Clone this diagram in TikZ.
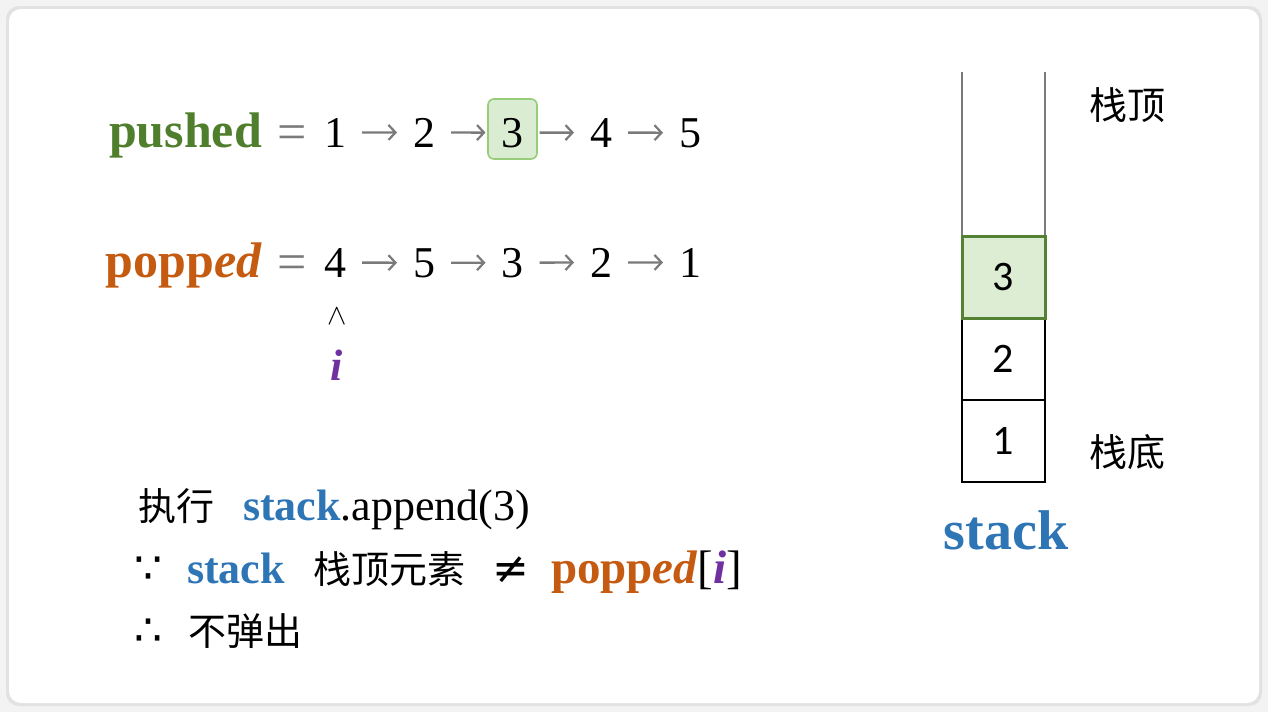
\RequirePackage{fix-cm}
\documentclass[tikz,border=0pt]{standalone}
\usepackage{fontspec}
\setmainfont{Liberation Serif}
\newfontfamily\cjk{Noto Sans CJK SC}
\newfontfamily\sansdig{Carlito}
\newfontfamily\symf{DejaVu Sans}
\usetikzlibrary{arrows.meta}
\definecolor{pgreen}{HTML}{4F7F2C}
\definecolor{porange}{HTML}{C55A11}
\definecolor{sblue}{HTML}{2E75B6}
\definecolor{ipurple}{HTML}{7030A0}
\definecolor{boxfill}{HTML}{DAEDD3}
\definecolor{boxline}{HTML}{97CC7A}
\definecolor{sfill}{HTML}{DDEDD3}
\definecolor{sline}{HTML}{548235}
\definecolor{arrgray}{HTML}{7A7A7A}
\definecolor{bgout}{HTML}{F3F3F3}
\definecolor{shad}{HTML}{E2E2E2}
\begin{document}
\begin{tikzpicture}[x=1pt,y=-1pt,
  every node/.style={inner sep=0pt, outer sep=0pt},
  eqf/.style={font=\fontsize{44}{50}\selectfont},
  digit/.style={eqf, anchor=base},
  arr/.style={draw=arrgray, line width=2.4pt, -{Straight Barb[length=7pt,width=15pt,line width=2.2pt]}, shorten <=27pt, shorten >=27pt},
  cn/.style={font=\fontsize{38}{44}\selectfont\cjk},
  bt/.style={font=\fontsize{44}{50}\selectfont},
  lbl/.style={font=\fontsize{50}{56}\selectfont},
  symb/.style={font=\fontsize{44}{50}\selectfont\symf},
  pbox/.style={draw=boxline, fill=boxfill, line width=1.6pt, rounded corners=6pt, minimum width=49pt, minimum height=60pt},
  sbox/.style={draw=black, line width=2pt, minimum width=83pt, minimum height=82pt, font=\fontsize{42}{48}\selectfont\sansdig},
  sboxtop/.style={sbox, draw=sline, line width=3pt, fill=sfill},
  wall/.style={draw=arrgray, line width=2pt}
]
\useasboundingbox (0,0) rectangle (1268,712);
\fill[bgout] (0,0) rectangle (1268,712);
\fill[shad, rounded corners=13pt] (6,6) rectangle (1262,706);
\fill[white, rounded corners=12pt] (9,9) rectangle (1259,703);

% pushed line
\node[lbl, text=pgreen, anchor=base east] (lpush) at (262,147) {\bfseries pushed};
\node[font=\fontsize{52}{58}\selectfont, text=arrgray, anchor=base] (eq1) at (292,149) {=};
\node[pbox] (b3) at (512.5,129) {};
\node[digit] (a1) at (335,147) {1};
\node[digit] (a2) at (424,147) {2};
\node[digit] (a3) at (512.5,147) {3};
\node[digit] (a4) at (601,147) {4};
\node[digit] (a5) at (690,147) {5};
\draw[arr] (a1.center) -- (a2.center);
\draw[arr] (a2.center) -- (a3.center);
\draw[arr] (a3.center) -- (a4.center);
\draw[arr] (a4.center) -- (a5.center);

% popped line
\node[lbl, text=porange, anchor=base east] (lpop) at (262,277) {\bfseries popp\textit{ed}};
\node[font=\fontsize{52}{58}\selectfont, text=arrgray, anchor=base] (eq2) at (292,279) {=};
\node[digit] (c4) at (335,277) {4};
\node[digit] (c5) at (424,277) {5};
\node[digit] (c3) at (512.5,277) {3};
\node[digit] (c2) at (601,277) {2};
\node[digit] (c1) at (690,277) {1};
\draw[arr] (c4.center) -- (c5.center);
\draw[arr] (c5.center) -- (c3.center);
\draw[arr] (c3.center) -- (c2.center);
\draw[arr] (c2.center) -- (c1.center);

\node[font=\fontsize{29}{34}\selectfont] (wedge) at (337,316) {$\wedge$};
\node[bt, text=ipurple, anchor=base] (iv) at (337,380) {\bfseries\itshape i};

% bottom text
\node[cn, anchor=base west] (zx) at (138,520) {执行};
\node[bt, text=sblue, anchor=base west] (st1) at (243,520) {\bfseries stack};
\node[bt, anchor=base west] (ap) at (st1.base east) {.append(3)};

\node[symb, anchor=base west] (because) at (134,583) {∵};
\node[bt, text=sblue, anchor=base west] (st2) at (187,583) {\bfseries stack};
\node[cn, anchor=base west] (top2) at (313,583) {栈顶元素};
\node[symb, anchor=base] (neq) at (511,583) {≠};
\node[font=\fontsize{47}{52}\selectfont, text=porange, anchor=base west] (pp2) at (551,583) {\bfseries popp\textit{ed}};
\node[font=\fontsize{47}{52}\selectfont, anchor=base west] (idx) at (pp2.base east) {[\textcolor{ipurple}{\bfseries\itshape i}]};

\node[symb, anchor=base west] (therefore) at (134,645) {∴};
\node[cn, anchor=base west] (nb) at (188,645) {不弹出};

% stack
\draw[wall] (962,72) -- (962,236);
\draw[wall] (1045,72) -- (1045,236);
\node[sbox] (s2) at (1003.5,359) {2};
\node[sbox] (s1) at (1003.5,441) {1};
\node[sboxtop] (s3) at (1003.5,277) {3};
\node[font=\fontsize{56}{60}\selectfont, text=sblue] (slabel) at (1006,530) {\bfseries stack};
\node[cn] (ztop) at (1127,105) {栈顶};
\node[cn] (zbot) at (1127,452) {栈底};
\end{tikzpicture}
\end{document}
